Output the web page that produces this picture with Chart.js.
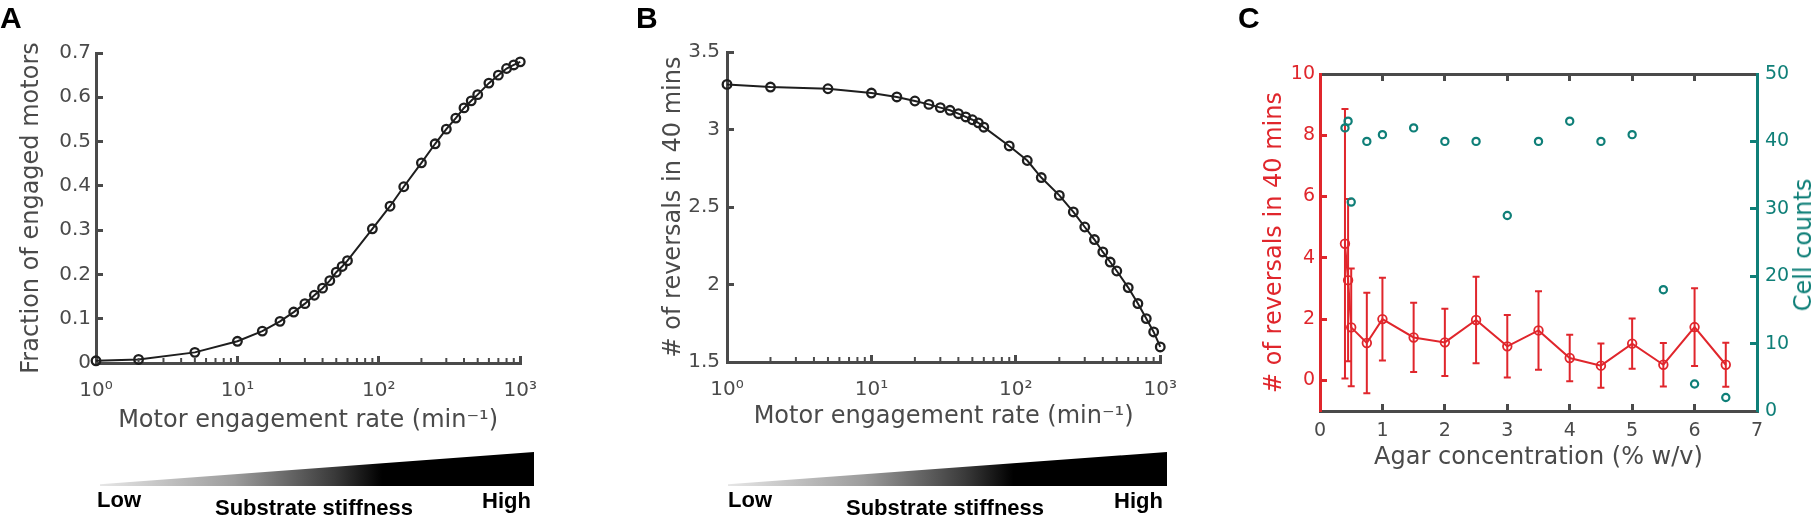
<!DOCTYPE html>
<html>
<head>
<meta charset="utf-8">
<script src="https://cdn.jsdelivr.net/npm/chart.js@4.4.1/dist/chart.umd.min.js"></script>
<style>
body{margin:0;width:1817px;height:517px;background:#fff;position:relative;overflow:hidden;font-family:"DejaVu Sans",sans-serif}
.caja{position:absolute;top:0;height:517px}
.txt{position:absolute;font-family:"Liberation Sans",Arial,sans-serif;font-weight:bold;color:#000;line-height:1;white-space:nowrap}
.cuna{position:absolute;top:452px;height:34px;clip-path:polygon(0 95%,100% 0,100% 100%,0 100%);
  background:linear-gradient(to right,#e6e6e6 0%,#9c9c9c 31%,#3a3a3a 54%,#000 65%,#000 100%)}
</style>
</head>
<body>
<div class="caja" style="left:0;width:560px"><canvas id="chartA"></canvas></div>
<div class="caja" style="left:640px;width:560px"><canvas id="chartB"></canvas></div>
<div class="caja" style="left:1200px;width:617px"><canvas id="chartC"></canvas></div>

<div class="txt" style="left:0;top:3px;font-size:30px">A</div>
<div class="txt" style="left:636px;top:3px;font-size:30px">B</div>
<div class="txt" style="left:1238px;top:3px;font-size:30px">C</div>

<div class="cuna" style="left:100px;width:434px"></div>
<div class="txt" style="left:97px;top:489px;font-size:22px">Low</div>
<div class="txt" style="left:314px;top:497px;font-size:22px;transform:translateX(-50%)">Substrate stiffness</div>
<div class="txt" style="right:1286px;top:490px;font-size:22px">High</div>

<div class="cuna" style="left:728px;width:439px"></div>
<div class="txt" style="left:728px;top:489px;font-size:22px">Low</div>
<div class="txt" style="left:945px;top:497px;font-size:22px;transform:translateX(-50%)">Substrate stiffness</div>
<div class="txt" style="right:654px;top:490px;font-size:22px">High</div>

<div style="position:absolute;left:1803px;top:245px;transform:translate(-50%,-50%) rotate(-90deg);font-size:24px;color:#0f7f78;white-space:nowrap">Cell counts</div>

<script>
// datos del modelo (paneles A y B)
const engagementRate = [1,2,5,10,15,20,25,30,35,40,45,50,55,60,90,120,150,200,250,300,350,400,450,500,600,700,800,900,1000]
const engagedFraction = [0.005,0.008,0.024,0.049,0.072,0.094,0.115,0.134,0.153,0.169,0.186,0.205,0.218,0.231,0.303,0.354,0.398,0.452,0.495,0.528,0.553,0.576,0.592,0.606,0.632,0.650,0.665,0.673,0.680]
const reversalsModel = [3.291,3.274,3.263,3.235,3.210,3.184,3.162,3.141,3.124,3.102,3.081,3.063,3.043,3.015,2.894,2.800,2.690,2.575,2.468,2.371,2.290,2.210,2.145,2.087,1.980,1.877,1.780,1.694,1.597]

// datos experimentales (panel C)
const agarConc = [0.4,0.45,0.5,0.75,1,1.5,2,2.5,3,3.5,4,4.5,5,5.5,6,6.5]
const reversalsMean = [4.46,3.27,1.73,1.22,2.0,1.40,1.24,1.97,1.11,1.63,0.73,0.48,1.20,0.51,1.74,0.51]
const reversalsErr = [4.40,2.65,1.92,1.64,1.35,1.13,1.10,1.41,1.02,1.28,0.76,0.72,0.82,0.71,1.27,0.72]
const cellCounts = [42,43,31,40,41,42,40,40,29,40,43,40,41,18,4,2]

// ticks
const logTicks = [1,10,100,1000]
const fracTicks = [0,0.1,0.2,0.3,0.4,0.5,0.6,0.7]
const revTicks = [1.5,2,2.5,3,3.5]
const agarTicks = [0,1,2,3,4,5,6,7]
const revExpTicks = [0,2,4,6,8,10]
const countTicks = [0,10,20,30,40,50]

const gris = '#4a4a4a'
const negro = '#1e1e1e'
const rojo = '#e0262c'
const verde = '#0f7f78'
const sup = {0:'⁰',1:'¹',2:'²',3:'³'}

Chart.defaults.font.family = 'DejaVu Sans'

function fijarTicks(lista){
    return function(scale){ scale.ticks = lista.map(v => ({value:v})) }
}

// ticks menores del eje log, mas cortos que los mayores
const ticksMenores = {
    id:'ticksMenores',
    afterDatasetsDraw(chart){
        const x = chart.scales.x, ctx = chart.ctx, y0 = chart.chartArea.bottom
        ctx.save()
        ctx.strokeStyle = gris
        ctx.lineWidth = 2
        for (let d = 1; d < 1000; d *= 10) {
            for (let k = 2; k < 10; k++) {
                const px = x.getPixelForValue(k*d)
                ctx.beginPath(); ctx.moveTo(px, y0); ctx.lineTo(px, y0-5); ctx.stroke()
            }
        }
        ctx.restore()
    }
}

// barras de error del panel C
const barrasError = {
    id:'barrasError',
    beforeDatasetsDraw(chart){
        const {ctx, scales:{x, y}} = chart
        ctx.save()
        ctx.strokeStyle = rojo
        ctx.lineWidth = 2
        agarConc.forEach((a, i) => {
            const px = x.getPixelForValue(a)
            const lo = y.getPixelForValue(reversalsMean[i]-reversalsErr[i])
            const hi = y.getPixelForValue(reversalsMean[i]+reversalsErr[i])
            ctx.beginPath()
            ctx.moveTo(px, lo); ctx.lineTo(px, hi)
            ctx.moveTo(px-3.5, lo); ctx.lineTo(px+3.5, lo)
            ctx.moveTo(px-3.5, hi); ctx.lineTo(px+3.5, hi)
            ctx.stroke()
        })
        ctx.restore()
    }
}

function ejeLog(padTitulo){
    return {
        type:'logarithmic', min:1, max:1000,
        afterBuildTicks:fijarTicks(logTicks),
        afterFit:s => { s.height = 80 },
        grid:{drawOnChartArea:false, tickLength:-7, tickWidth:3, tickColor:gris},
        border:{color:gris, width:3},
        ticks:{padding:23, color:gris, autoSkip:false, maxRotation:0,
               font:{size:20},
               callback:v => '10' + sup[Math.round(Math.log10(v))]},
        title:{display:true, text:'Motor engagement rate (min⁻¹)', color:gris,
               font:{size:24}, padding:{top:0, bottom:padTitulo}}
    }
}

function serieModelo(ys){
    return {
        data:engagementRate.map((r, i) => ({x:r, y:ys[i]})),
        borderColor:negro, borderWidth:2, tension:0, clip:false,
        pointRadius:4.3, pointBorderWidth:2.3,
        pointBorderColor:negro, pointBackgroundColor:'rgba(0,0,0,0)'
    }
}

const chartA = new Chart(document.getElementById('chartA'), {
    type:'line',
    data:{datasets:[serieModelo(engagedFraction)]},
    options:{
        responsive:true, maintainAspectRatio:false, animation:false,
        layout:{padding:{top:53, right:26, bottom:74, left:0}},
        plugins:{legend:{display:false}, tooltip:{enabled:false}},
        scales:{
            x:ejeLog(7.6),
            y:{min:0, max:0.7,
               afterBuildTicks:fijarTicks(fracTicks),
               afterFit:s => { s.width = 96 },
               grid:{drawOnChartArea:false, tickLength:-7, tickWidth:3, tickColor:gris},
               border:{color:gris, width:3},
               ticks:{padding:12, color:gris, font:{size:20},
                      callback:v => v === 0 ? '0' : v.toFixed(1)},
               title:{display:true, text:'Fraction of engaged motors', color:gris,
                      font:{size:24}, padding:{top:17.6, bottom:0}}}
        }
    },
    plugins:[ticksMenores]
})

const chartB = new Chart(document.getElementById('chartB'), {
    type:'line',
    data:{datasets:[serieModelo(reversalsModel)]},
    options:{
        responsive:true, maintainAspectRatio:false, animation:false,
        layout:{padding:{top:52, right:32, bottom:75, left:0}},
        plugins:{legend:{display:false}, tooltip:{enabled:false}},
        scales:{
            x:ejeLog(10.6),
            y:{min:1.5, max:3.5,
               afterBuildTicks:fijarTicks(revTicks),
               afterFit:s => { s.width = 87 },
               grid:{drawOnChartArea:false, tickLength:-7, tickWidth:3, tickColor:gris},
               border:{color:gris, width:3},
               ticks:{padding:14, color:gris, font:{size:20}, callback:v => String(v)},
               title:{display:true, text:'# of reversals in 40 mins', color:gris,
                      font:{size:24}, padding:{top:19.6, bottom:0}}}
        }
    },
    plugins:[ticksMenores]
})

const ejeGrid = (c) => ({drawOnChartArea:false, tickLength:-7, tickWidth:3, tickColor:c})

const chartC = new Chart(document.getElementById('chartC'), {
    type:'line',
    data:{datasets:[
        {label:'Cell counts', yAxisID:'y2', order:0, showLine:false, clip:false,
         data:agarConc.map((a, i) => ({x:a, y:cellCounts[i]})),
         pointRadius:3.6, pointBorderWidth:2.2, pointBorderColor:verde,
         pointBackgroundColor:'rgba(0,0,0,0)', borderColor:verde},
        {label:'# of reversals', yAxisID:'y', order:1, clip:false, tension:0,
         data:agarConc.map((a, i) => ({x:a, y:reversalsMean[i]})),
         borderColor:rojo, borderWidth:2, pointRadius:4.3, pointBorderWidth:1.8,
         pointBorderColor:rojo, pointBackgroundColor:'rgba(0,0,0,0)'}
    ]},
    options:{
        responsive:true, maintainAspectRatio:false, animation:false,
        layout:{padding:{top:74, right:0, bottom:36, left:0}},
        plugins:{legend:{display:false}, tooltip:{enabled:false}},
        scales:{
            x:{type:'linear', position:'bottom', min:0, max:7,
               afterBuildTicks:fijarTicks(agarTicks),
               afterFit:s => { s.height = 70 },
               grid:ejeGrid(gris), border:{color:gris, width:3},
               ticks:{padding:16, color:gris, font:{size:19}, autoSkip:false, maxRotation:0},
               title:{display:true, text:'Agar concentration (% w/v)', color:gris,
                      font:{size:24}, padding:{top:0, bottom:9}}},
            x2:{type:'linear', position:'top', min:0, max:7,
                afterBuildTicks:fijarTicks(agarTicks),
                afterFit:s => { s.height = 0 },
                grid:ejeGrid(gris), border:{color:gris, width:3},
                ticks:{display:false}},
            y:{type:'linear', position:'left', min:-1, max:10,
               afterBuildTicks:fijarTicks(revExpTicks),
               afterFit:s => { s.width = 120 },
               grid:ejeGrid(rojo), border:{color:rojo, width:3},
               ticks:{padding:12, color:rojo, font:{size:19}},
               title:{display:true, text:'# of reversals in 40 mins', color:rojo,
                      font:{size:24}, padding:{top:60.6, bottom:0}}},
            y2:{type:'linear', position:'right', min:0, max:50,
                afterBuildTicks:fijarTicks(countTicks),
                afterFit:s => { s.width = 60 },
                grid:ejeGrid(verde), border:{color:verde, width:3},
                ticks:{padding:15, color:verde, font:{size:19}}}
        }
    },
    plugins:[barrasError]
})
</script>
</body>
</html>
